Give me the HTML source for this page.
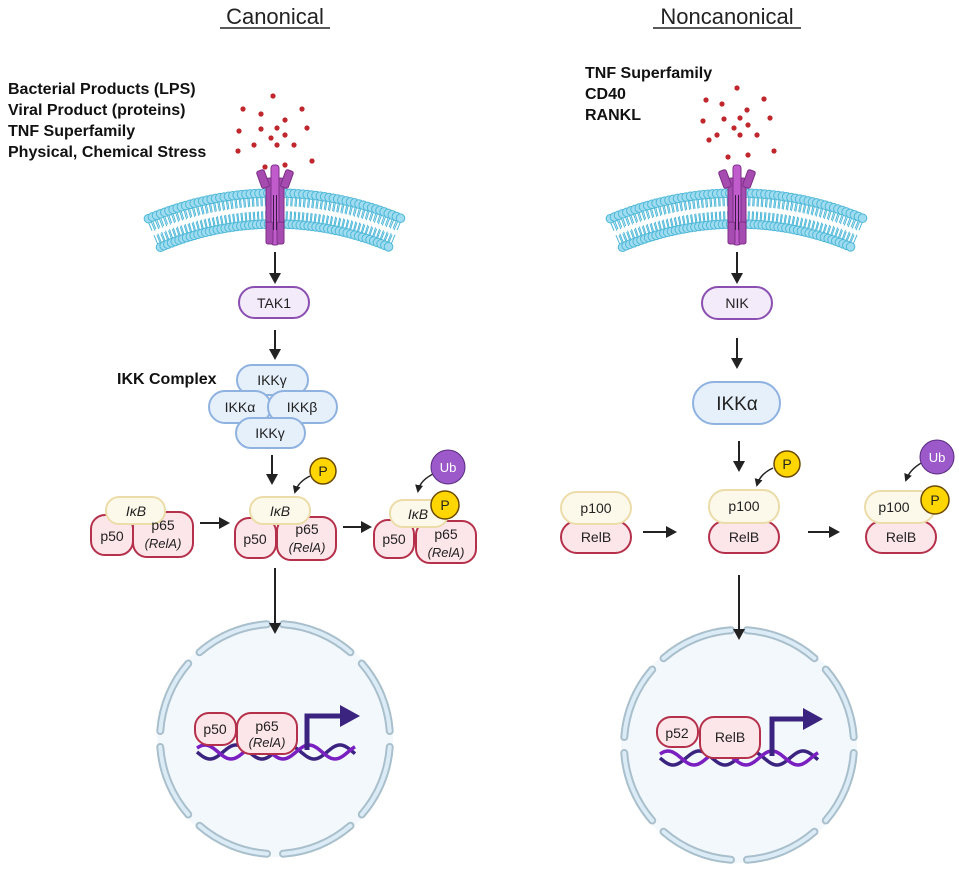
<!DOCTYPE html>
<html><head><meta charset="utf-8">
<style>
html,body{margin:0;padding:0;background:#fff;}
svg{display:block;font-family:"Liberation Sans",sans-serif;}
</style></head>
<body>
<svg id="s" width="959" height="872" viewBox="0 0 959 872" xmlns="http://www.w3.org/2000/svg">
<defs>
<marker id="ah" markerWidth="8" markerHeight="8" refX="6" refY="4" orient="auto" markerUnits="userSpaceOnUse">
<path d="M0,0 L8,4 L0,8 Z" fill="#222"/></marker>
<marker id="ah2" markerWidth="12" markerHeight="12" refX="9" refY="6" orient="auto" markerUnits="userSpaceOnUse">
<path d="M0,0 L11,6 L0,12 Z" fill="#222"/></marker>
</defs>
<g id="nuc"></g>
<g id="mem"></g>
<g font-size="22" fill="#222" text-anchor="middle">
<text x="275" y="24">Canonical</text>
<line x1="220" y1="28" x2="330" y2="28" stroke="#222" stroke-width="1.5"/>
<text x="727" y="24">Noncanonical</text>
<line x1="653" y1="28" x2="801" y2="28" stroke="#222" stroke-width="1.5"/>
</g>
<g font-size="16" font-weight="bold" fill="#111">
<text x="8" y="94">Bacterial Products (LPS)</text>
<text x="8" y="115">Viral Product (proteins)</text>
<text x="8" y="136">TNF Superfamily</text>
<text x="8" y="157">Physical, Chemical Stress</text>
<text x="585" y="78">TNF Superfamily</text>
<text x="585" y="99">CD40</text>
<text x="585" y="120">RANKL</text>
<text x="117" y="384">IKK Complex</text>
</g>
<g id="dots" fill="#c0272d"></g>

<g stroke="#222" stroke-width="2" fill="none" marker-end="url(#ah2)">
<line x1="275" y1="252" x2="275" y2="282"/>
<line x1="275" y1="330" x2="275" y2="358"/>
<line x1="272" y1="455" x2="272" y2="483"/>
<line x1="200" y1="523" x2="228" y2="523"/>
<line x1="343" y1="527" x2="370" y2="527"/>
<line x1="275" y1="568" x2="275" y2="632"/>
<line x1="737" y1="252" x2="737" y2="282"/>
<line x1="737" y1="338" x2="737" y2="367"/>
<line x1="739" y1="441" x2="739" y2="470"/>
<line x1="643" y1="532" x2="675" y2="532"/>
<line x1="808" y1="532" x2="838" y2="532"/>
<line x1="739" y1="575" x2="739" y2="638"/>
</g>

<g stroke="#8a4fb0" stroke-width="2" fill="#f3eafa" font-size="14" text-anchor="middle">
<rect x="239" y="287" width="70" height="31" rx="15.5"/>
<rect x="702" y="287" width="70" height="32" rx="16"/>
<text x="274" y="308" stroke="none" fill="#222">TAK1</text>
<text x="737" y="308" stroke="none" fill="#222">NIK</text>
</g>

<g stroke="#8fb2e0" stroke-width="2" fill="#e6f0fb" font-size="14" text-anchor="middle">
<rect x="237" y="365" width="71" height="30" rx="15"/>
<rect x="209" y="391" width="62" height="32" rx="16"/>
<rect x="268" y="391" width="69" height="32" rx="16"/>
<rect x="236" y="418" width="69" height="30" rx="15"/>
<rect x="693" y="382" width="87" height="42" rx="21"/>
<g stroke="none" fill="#222">
<text x="272" y="385">IKKγ</text>
<text x="240" y="412">IKKα</text>
<text x="302" y="412">IKKβ</text>
<text x="270" y="438">IKKγ</text>
<text x="737" y="410" font-size="19">IKKα</text>
</g></g>

<g font-size="14" text-anchor="middle">
<g stroke="#b5304a" stroke-width="2" fill="#fde6ea">
<rect x="91" y="515" width="42" height="40" rx="14"/>
<rect x="133" y="512" width="60" height="45" rx="14"/>
<rect x="235" y="518" width="41" height="40" rx="14"/>
<rect x="277" y="517" width="59" height="43" rx="14"/>
<rect x="374" y="520" width="40" height="38" rx="14"/>
<rect x="416" y="521" width="60" height="42" rx="14"/>
<rect x="561" y="521" width="70" height="32" rx="16"/>
<rect x="709" y="521" width="70" height="32" rx="16"/>
<rect x="866" y="521" width="70" height="32" rx="16"/>
</g>
<g stroke="#ecdcaa" stroke-width="2" fill="#fdf9ea">
<rect x="106" y="497" width="59" height="27" rx="13"/>
<rect x="250" y="497" width="60" height="27" rx="13"/>
<rect x="390" y="500" width="58" height="27" rx="13"/>
<rect x="561" y="492" width="70" height="32" rx="16"/>
<rect x="709" y="490" width="70" height="33" rx="16"/>
<rect x="865" y="491" width="70" height="32" rx="16"/>
</g>
<g fill="#222">
<text x="136" y="516" font-style="italic">IκB</text>
<text x="280" y="516" font-style="italic">IκB</text>
<text x="418" y="519" font-style="italic">IκB</text>
<text x="112" y="541">p50</text><text x="163" y="530">p65</text><text x="163" y="548" font-style="italic" font-size="13">(RelA)</text>
<text x="255" y="544">p50</text><text x="307" y="534">p65</text><text x="307" y="552" font-style="italic" font-size="13">(RelA)</text>
<text x="394" y="544">p50</text><text x="446" y="539">p65</text><text x="446" y="557" font-style="italic" font-size="13">(RelA)</text>
<text x="596" y="513">p100</text><text x="596" y="542">RelB</text>
<text x="744" y="511">p100</text><text x="744" y="542">RelB</text>
<text x="894" y="512">p100</text><text x="901" y="542">RelB</text>
</g>
<g stroke="#222" stroke-width="1.5" fill="none" marker-end="url(#ah)">
<path d="M310,476 Q298,482 295,492"/>
<path d="M435,473 Q420,480 418,491"/>
<path d="M773,468 Q760,474 757,485"/>
<path d="M923,462 Q910,469 906,480"/>
</g>
<g stroke="#6b4a00" stroke-width="1.5" fill="#ffd600">
<circle cx="323" cy="471" r="13"/><circle cx="445" cy="505" r="14"/>
<circle cx="787" cy="464" r="13"/><circle cx="935" cy="500" r="14"/>
</g>
<g stroke="#5a2a80" stroke-width="1" fill="#9b59c9">
<circle cx="448" cy="467" r="17"/><circle cx="937" cy="457" r="17"/>
</g>
<g fill="#222" font-size="14"><text x="323" y="476">P</text><text x="445" y="510">P</text><text x="787" y="469">P</text><text x="935" y="505">P</text></g>
<g fill="#fff" font-size="13"><text x="448" y="472">Ub</text><text x="937" y="462">Ub</text></g>
</g>

<g id="dna"></g>
<g font-size="14" text-anchor="middle">
<g stroke="#b5304a" stroke-width="2" fill="#fde6ea">
<rect x="195" y="713" width="41" height="32" rx="14"/>
<rect x="237" y="713" width="60" height="41" rx="14"/>
<rect x="657" y="717" width="41" height="30" rx="14"/>
<rect x="700" y="717" width="60" height="41" rx="14"/>
</g>
<g fill="#222">
<text x="215" y="734">p50</text><text x="267" y="731">p65</text><text x="267" y="747" font-style="italic" font-size="13">(RelA)</text>
<text x="677" y="738">p52</text><text x="730" y="742">RelB</text>
</g>
</g>
</svg>
<script>
var NS="http://www.w3.org/2000/svg";
function el(p,t,a){var e=document.createElementNS(NS,t);for(var k in a)e.setAttribute(k,a[k]);p.appendChild(e);return e;}
var mem=document.getElementById("mem");
function membrane(cx){
 var R=325,cy=518,ri=294;
 for(var a=-0.40;a<=0.401;a+=0.0135){
  var s=Math.sin(a),c=Math.cos(a);
  var x1=cx+R*s,y1=cy-R*c,x2=cx+ri*s,y2=cy-ri*c;
  var xm1=cx+(R-13)*s,ym1=cy-(R-13)*c,xm2=cx+(ri+13)*s,ym2=cy-(ri+13)*c;
  el(mem,"line",{x1:x1-1.5,y1:y1,x2:xm1-1.5,y2:ym1,stroke:"#4fb8d8","stroke-width":1});
  el(mem,"line",{x1:x1+1.5,y1:y1,x2:xm1+1.5,y2:ym1,stroke:"#4fb8d8","stroke-width":1});
  el(mem,"line",{x1:x2-1.5,y1:y2,x2:xm2-1.5,y2:ym2,stroke:"#4fb8d8","stroke-width":1});
  el(mem,"line",{x1:x2+1.5,y1:y2,x2:xm2+1.5,y2:ym2,stroke:"#4fb8d8","stroke-width":1});
  el(mem,"circle",{cx:x1,cy:y1,r:4.3,fill:"#9fdcef",stroke:"#4fb8d8","stroke-width":1});
  el(mem,"circle",{cx:x2,cy:y2,r:4.3,fill:"#9fdcef",stroke:"#4fb8d8","stroke-width":1});
 }
 var g=el(mem,"g",{fill:"#a64bb0",stroke:"#7d2f88","stroke-width":1});
 el(g,"rect",{x:cx-9,y:178,width:18,height:66,rx:3});
 el(g,"rect",{x:cx-4,y:165,width:8,height:80,rx:3,fill:"#c05ccb"});
 el(g,"rect",{x:cx-16,y:170,width:8,height:18,rx:2,transform:"rotate(-20 "+(cx-12)+" 179)"});
 el(g,"rect",{x:cx+8,y:170,width:8,height:18,rx:2,transform:"rotate(20 "+(cx+12)+" 179)"});
 el(g,"rect",{x:cx-9,y:222,width:7,height:22,rx:2});
 el(g,"rect",{x:cx+2,y:222,width:7,height:22,rx:2});
 el(mem,"line",{x1:cx-1.5,y1:195,x2:cx-1.5,y2:230,stroke:"#3b1a4a","stroke-width":1});
 el(mem,"line",{x1:cx+1.5,y1:195,x2:cx+1.5,y2:230,stroke:"#3b1a4a","stroke-width":1});
}
membrane(275);membrane(737);
var dots=document.getElementById("dots");
var L=[[273,96],[243,109],[261,114],[302,109],[285,120],[239,131],[261,129],[277,128],[307,128],[285,135],[271,138],[254,145],[277,145],[294,145],[238,151],[312,161],[265,167],[285,165]];
L.forEach(function(p){el(dots,"circle",{cx:p[0],cy:p[1],r:2.6});});
var Rr=[[737,88],[706,100],[722,104],[764,99],[747,110],[703,121],[724,119],[740,118],[770,118],[748,125],[734,128],[717,135],[740,135],[757,135],[709,140],[774,151],[728,157],[748,155]];
Rr.forEach(function(p){el(dots,"circle",{cx:p[0],cy:p[1],r:2.6});});
var nuc=document.getElementById("nuc");
function nucleus(cx,cy){
 el(nuc,"circle",{cx:cx,cy:cy,r:118,fill:"#f3f8fd"});
 for(var i=0;i<8;i++){
  var a0=(i*45+4)*Math.PI/180,a1=(i*45+41)*Math.PI/180,r=115;
  var d="M"+(cx+r*Math.cos(a0))+","+(cy+r*Math.sin(a0))+" A"+r+","+r+" 0 0 1 "+(cx+r*Math.cos(a1))+","+(cy+r*Math.sin(a1));
  el(nuc,"path",{d:d,fill:"none",stroke:"#a9bfcc","stroke-width":8,"stroke-linecap":"round"});
  el(nuc,"path",{d:d,fill:"none",stroke:"#dcecf7","stroke-width":4,"stroke-linecap":"round"});
 }
}
nucleus(275,739);nucleus(739,745);
var dna=document.getElementById("dna");
function helix(x0,x1,y,px,top,tipx){
 var d1="",d2="";
 for(var x=x0;x<=x1;x+=2){var t=(x-x0)/52*2*Math.PI;
  d1+=(x==x0?"M":"L")+x+","+(y+7*Math.sin(t));d2+=(x==x0?"M":"L")+x+","+(y-7*Math.sin(t+0.6));}
 el(dna,"path",{d:d1,fill:"none",stroke:"#3b2380","stroke-width":3.5});
 el(dna,"path",{d:d2,fill:"none",stroke:"#7a1fc0","stroke-width":3.5});
 el(dna,"path",{d:"M"+px+","+(y-2)+" L"+px+","+top+" L"+(tipx-18)+","+top,fill:"none",stroke:"#3b2380","stroke-width":5});
 el(dna,"path",{d:"M"+(tipx-20)+","+(top-11)+" L"+tipx+","+top+" L"+(tipx-20)+","+(top+11)+" Z",fill:"#3b2380"});
}
helix(197,355,752,307,716,360);
helix(660,818,758,772,719,823);
</script>
</body></html>
